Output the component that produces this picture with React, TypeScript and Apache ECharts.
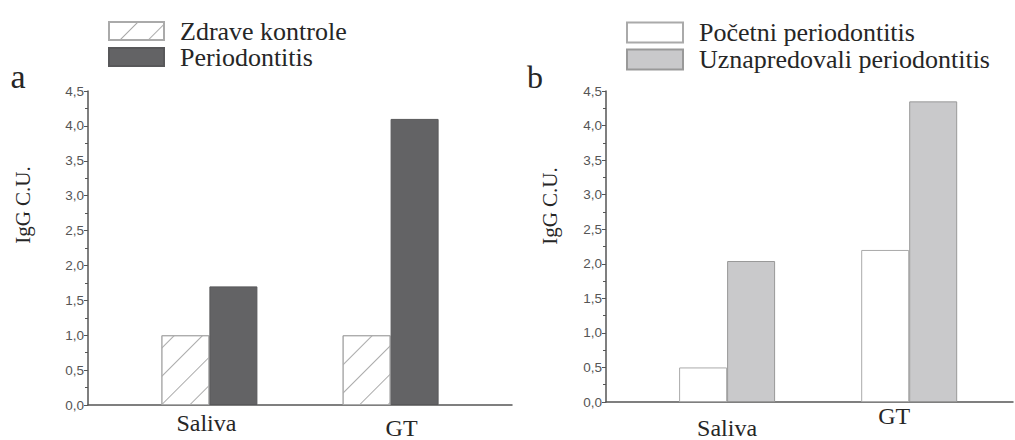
import React, { useEffect, useRef } from 'react';
import * as echarts from 'echarts';

const categories = ['Saliva', 'GT'];
const zdraveKontrole = [1.0, 1.0];
const periodontitis = [1.7, 4.1];
const pocetniPeriodontitis = [0.5, 2.2];
const uznapredovaliPeriodontitis = [2.04, 4.35];
const legendA = ['Zdrave kontrole', 'Periodontitis'];
const legendB = ['Početni periodontitis', 'Uznapredovali periodontitis'];
const yAxisTitle = 'IgG C.U.';
const panelLabels = ['a', 'b'];

const SERIF = 'Liberation Serif';
const SANS = 'Liberation Sans';
const TEXT = '#262626';

const toPoints = (vals: number[]) => vals.map((v, i) => [i + 1, v]);

const yAxisBase = (gridIndex: number) => ({
  type: 'value',
  gridIndex,
  min: 0,
  max: 4.5,
  interval: 0.5,
  axisLine: { show: true, lineStyle: { color: '#555', width: 1.5 } },
  axisTick: { show: true, length: 4, lineStyle: { color: '#555', width: 1 } },
  minorTick: { show: true, splitNumber: 2, length: 3, lineStyle: { color: '#555', width: 1 } },
  splitLine: { show: false },
  axisLabel: {
    formatter: (v: number) => v.toFixed(1).replace('.', ','),
    fontFamily: SANS,
    fontSize: 13.5,
    color: '#555',
    margin: 4,
  },
});

const labelStyle = (padding: number[]) => ({
  fontFamily: SERIF,
  fontSize: 24,
  color: TEXT,
  padding,
});

const xAxisBase = (gridIndex: number, min: number, max: number, margin: number, rich: any) => ({
  type: 'value',
  gridIndex,
  min,
  max,
  axisLine: { show: true, onZero: false, lineStyle: { color: '#555', width: 1.5 } },
  axisTick: { show: false },
  splitLine: { show: false },
  axisLabel: {
    customValues: [1, 2],
    formatter: (v: number) => {
      const i = Math.round(v) - 1;
      return `{c${i}|${categories[i]}}`;
    },
    margin,
    rich,
    fontFamily: SERIF,
    fontSize: 24,
    color: TEXT,
  },
});

export default function App() {
  const ref = useRef<HTMLDivElement>(null);
  useEffect(() => {
    if (!ref.current) return;
    const chart = echarts.init(ref.current, undefined, { renderer: 'svg' });
    const hatch = {
      symbol: 'rect',
      symbolSize: 1,
      dashArrayX: [1, 0],
      dashArrayY: [1, 19],
      rotation: -Math.PI / 4,
      color: '#aaa',
    };
    chart.setOption({
      animation: false,
      backgroundColor: '#fff',
      textStyle: { fontFamily: SERIF },
      grid: [
        { left: 88, right: 503, top: 91, bottom: 32 },
        { left: 606, right: 2, top: 91, bottom: 32 },
      ],
      xAxis: [
        xAxisBase(0, 0.33, 2.67, 6, { c0: labelStyle([0, 6, 0, 0]), c1: labelStyle([5, 0, 0, 22]) }),
        xAxisBase(1, 0.335, 2.57, 2, { c0: labelStyle([12, 0, 0, 0]), c1: labelStyle([0, 30, 0, 0]) }),
      ],
      yAxis: [yAxisBase(0), yAxisBase(1)],
      legend: [
        {
          data: legendA,
          orient: 'vertical',
          left: 108,
          top: 18,
          padding: 0,
          itemWidth: 55,
          itemHeight: 18,
          itemGap: 0,
          icon: 'rect',
          selectedMode: false,
          textStyle: { fontFamily: SERIF, fontSize: 26, color: TEXT, lineHeight: 26, padding: [0, 0, 0, 11] },
        },
        {
          data: legendB,
          orient: 'vertical',
          left: 626,
          top: 19,
          padding: 0,
          itemWidth: 56,
          itemHeight: 20,
          itemGap: 0,
          icon: 'rect',
          selectedMode: false,
          textStyle: { fontFamily: SERIF, fontSize: 26, color: TEXT, lineHeight: 27, padding: [0, 0, 0, 11] },
        },
      ],
      graphic: [
        { type: 'text', x: 18, y: 76, style: { text: panelLabels[0], fontFamily: SERIF, fontSize: 34, fill: TEXT, textAlign: 'center', textVerticalAlign: 'middle' } },
        { type: 'text', x: 535, y: 77, style: { text: panelLabels[1], fontFamily: SERIF, fontSize: 32, fill: TEXT, textAlign: 'center', textVerticalAlign: 'middle' } },
        { type: 'text', x: 23, y: 205, rotation: Math.PI / 2, style: { text: yAxisTitle, fontFamily: SERIF, fontSize: 21, fill: TEXT, textAlign: 'center', textVerticalAlign: 'middle' } },
        { type: 'text', x: 550, y: 206, rotation: Math.PI / 2, style: { text: yAxisTitle, fontFamily: SERIF, fontSize: 21, fill: TEXT, textAlign: 'center', textVerticalAlign: 'middle' } },
      ],
      series: [
        {
          type: 'bar', name: legendA[0], xAxisIndex: 0, yAxisIndex: 0,
          data: toPoints(zdraveKontrole), barWidth: 48, barGap: '0%',
          itemStyle: { color: '#fff', borderColor: '#aaa', borderWidth: 1, decal: hatch },
        },
        {
          type: 'bar', name: legendA[1], xAxisIndex: 0, yAxisIndex: 0,
          data: toPoints(periodontitis), barWidth: 48, barGap: '0%',
          itemStyle: { color: '#636365', borderColor: '#58585a', borderWidth: 1 },
        },
        {
          type: 'bar', name: legendB[0], xAxisIndex: 1, yAxisIndex: 1,
          data: toPoints(pocetniPeriodontitis), barWidth: 48, barGap: '0%',
          itemStyle: { color: '#fff', borderColor: '#aaa', borderWidth: 1 },
        },
        {
          type: 'bar', name: legendB[1], xAxisIndex: 1, yAxisIndex: 1,
          data: toPoints(uznapredovaliPeriodontitis), barWidth: 48, barGap: '0%',
          itemStyle: { color: '#c9c9cb', borderColor: '#999', borderWidth: 1 },
        },
      ],
    });
    return () => chart.dispose();
  }, []);
  return <div ref={ref} style={{ position: 'fixed', left: 0, top: 0, width: 1015, height: 440 }} />;
}
